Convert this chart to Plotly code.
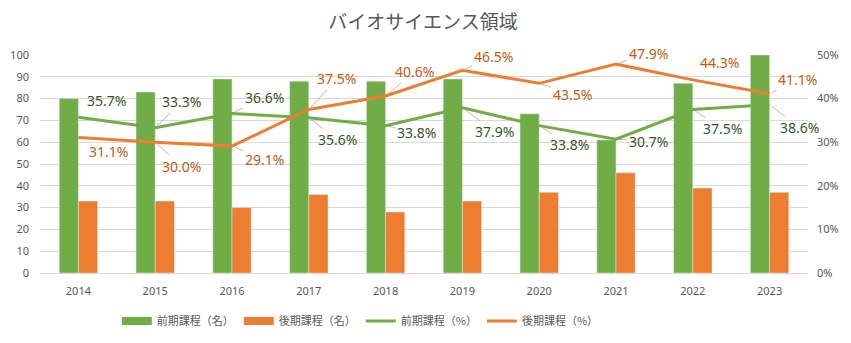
import plotly.graph_objects as go

years = ["2014", "2015", "2016", "2017", "2018", "2019", "2020", "2021", "2022", "2023"]
front_count = [80, 83, 89, 88, 88, 89, 73, 61, 87, 100]
back_count = [33, 33, 30, 36, 28, 33, 37, 46, 39, 37]
front_pct = [35.7, 33.3, 36.6, 35.6, 33.8, 37.9, 33.8, 30.7, 37.5, 38.6]
back_pct = [31.1, 30.0, 29.1, 37.5, 40.6, 46.5, 43.5, 47.9, 44.3, 41.1]

title = "バイオサイエンス領域"
names = ["前期課程（名）", "後期課程（名）", "前期課程（%）", "後期課程（%）"]

GREEN = "#70AD47"
ORANGE = "#ED7D31"
GREEN_TXT = "#375623"
ORANGE_TXT = "#C55A11"
JP = "Noto Sans CJK JP"
NUM = "Noto Sans, Noto Sans CJK JP"

# label offsets in pixels (dx, dy-down) and whether a leader line is drawn
front_off = [(28, -17, False), (26, -26, True), (32, -16, True), (29, 22, True), (31, 7, True),
             (32, 24, True), (30, 19, True), (32, 2, True), (30, 19, True), (30, 23, True)]
back_off = [(30, 14, False), (26, 24, True), (32, 13, True), (28, -31, True), (29, -24, True),
            (31, -14, True), (33, 11, True), (32, -11, True), (27, -17, False), (28, -14, True)]

fig = go.Figure()
fig.add_trace(go.Bar(x=years, y=front_count, name=names[0], marker_color=GREEN,
                     showlegend=False, legendgroup="a"))
fig.add_trace(go.Bar(x=years, y=back_count, name=names[1], marker_color=ORANGE,
                     showlegend=False, legendgroup="b"))
fig.add_trace(go.Scatter(x=years, y=[v / 100 for v in front_pct], name=names[2], yaxis="y2",
                         mode="lines", line=dict(color=GREEN, width=3), legendrank=3))
fig.add_trace(go.Scatter(x=years, y=[v / 100 for v in back_pct], name=names[3], yaxis="y2",
                         mode="lines", line=dict(color=ORANGE, width=3), legendrank=4))
# legend-only entries with rectangular swatches for the bar series
fig.add_trace(go.Scatter(x=[None], y=[None], name=names[0], mode="lines", legendgroup="a",
                         line=dict(color=GREEN, width=8), legendrank=1))
fig.add_trace(go.Scatter(x=[None], y=[None], name=names[1], mode="lines", legendgroup="b",
                         line=dict(color=ORANGE, width=8), legendrank=2))

anns = []
for vals, offs, col in ((front_pct, front_off, GREEN_TXT), (back_pct, back_off, ORANGE_TXT)):
    for i, (v, (dx, dy, lead)) in enumerate(zip(vals, offs)):
        anns.append(dict(
            x=i, y=v / 100, xref="x", yref="y2", text=f"{v:.1f}%",
            showarrow=True, ax=dx, ay=dy, arrowhead=0, arrowwidth=0.8, standoff=3,
            arrowcolor="#A6A6A6" if lead else "rgba(0,0,0,0)",
            font=dict(family=NUM, size=14, color=col),
        ))

fig.update_layout(
    width=851, height=343,
    margin=dict(l=40, r=43, t=55, b=70, autoexpand=False),
    paper_bgcolor="white", plot_bgcolor="white",
    title=dict(text=title, x=0.497, xanchor="center", y=0.935, yanchor="middle",
               font=dict(family=JP, size=19, color="#595959")),
    barmode="group", bargap=0.5, bargroupgap=0,
    xaxis=dict(type="category", range=[-0.5, 9.5], showgrid=False, showline=True,
               linecolor="#D9D9D9", ticklabelstandoff=8,
               tickfont=dict(family=NUM, size=11, color="#595959"), ticks=""),
    yaxis=dict(range=[0, 100], dtick=10, showgrid=True, gridcolor="#D9D9D9", gridwidth=1,
               zeroline=False, tickfont=dict(family=NUM, size=11, color="#595959"),
               ticklabelstandoff=10),
    yaxis2=dict(range=[0, 0.5], dtick=0.1, tickformat=".0%", overlaying="y", side="right",
                showgrid=False, zeroline=False,
                tickfont=dict(family=NUM, size=11, color="#595959"), ticklabelstandoff=8),
    legend=dict(orientation="h", x=0.1, xanchor="left", y=-0.22, yanchor="middle",
                font=dict(family=JP, size=11, color="#595959"), itemwidth=30,
                traceorder="normal"),
    annotations=anns,
    showlegend=True,
)

fig.write_html("out.html")
